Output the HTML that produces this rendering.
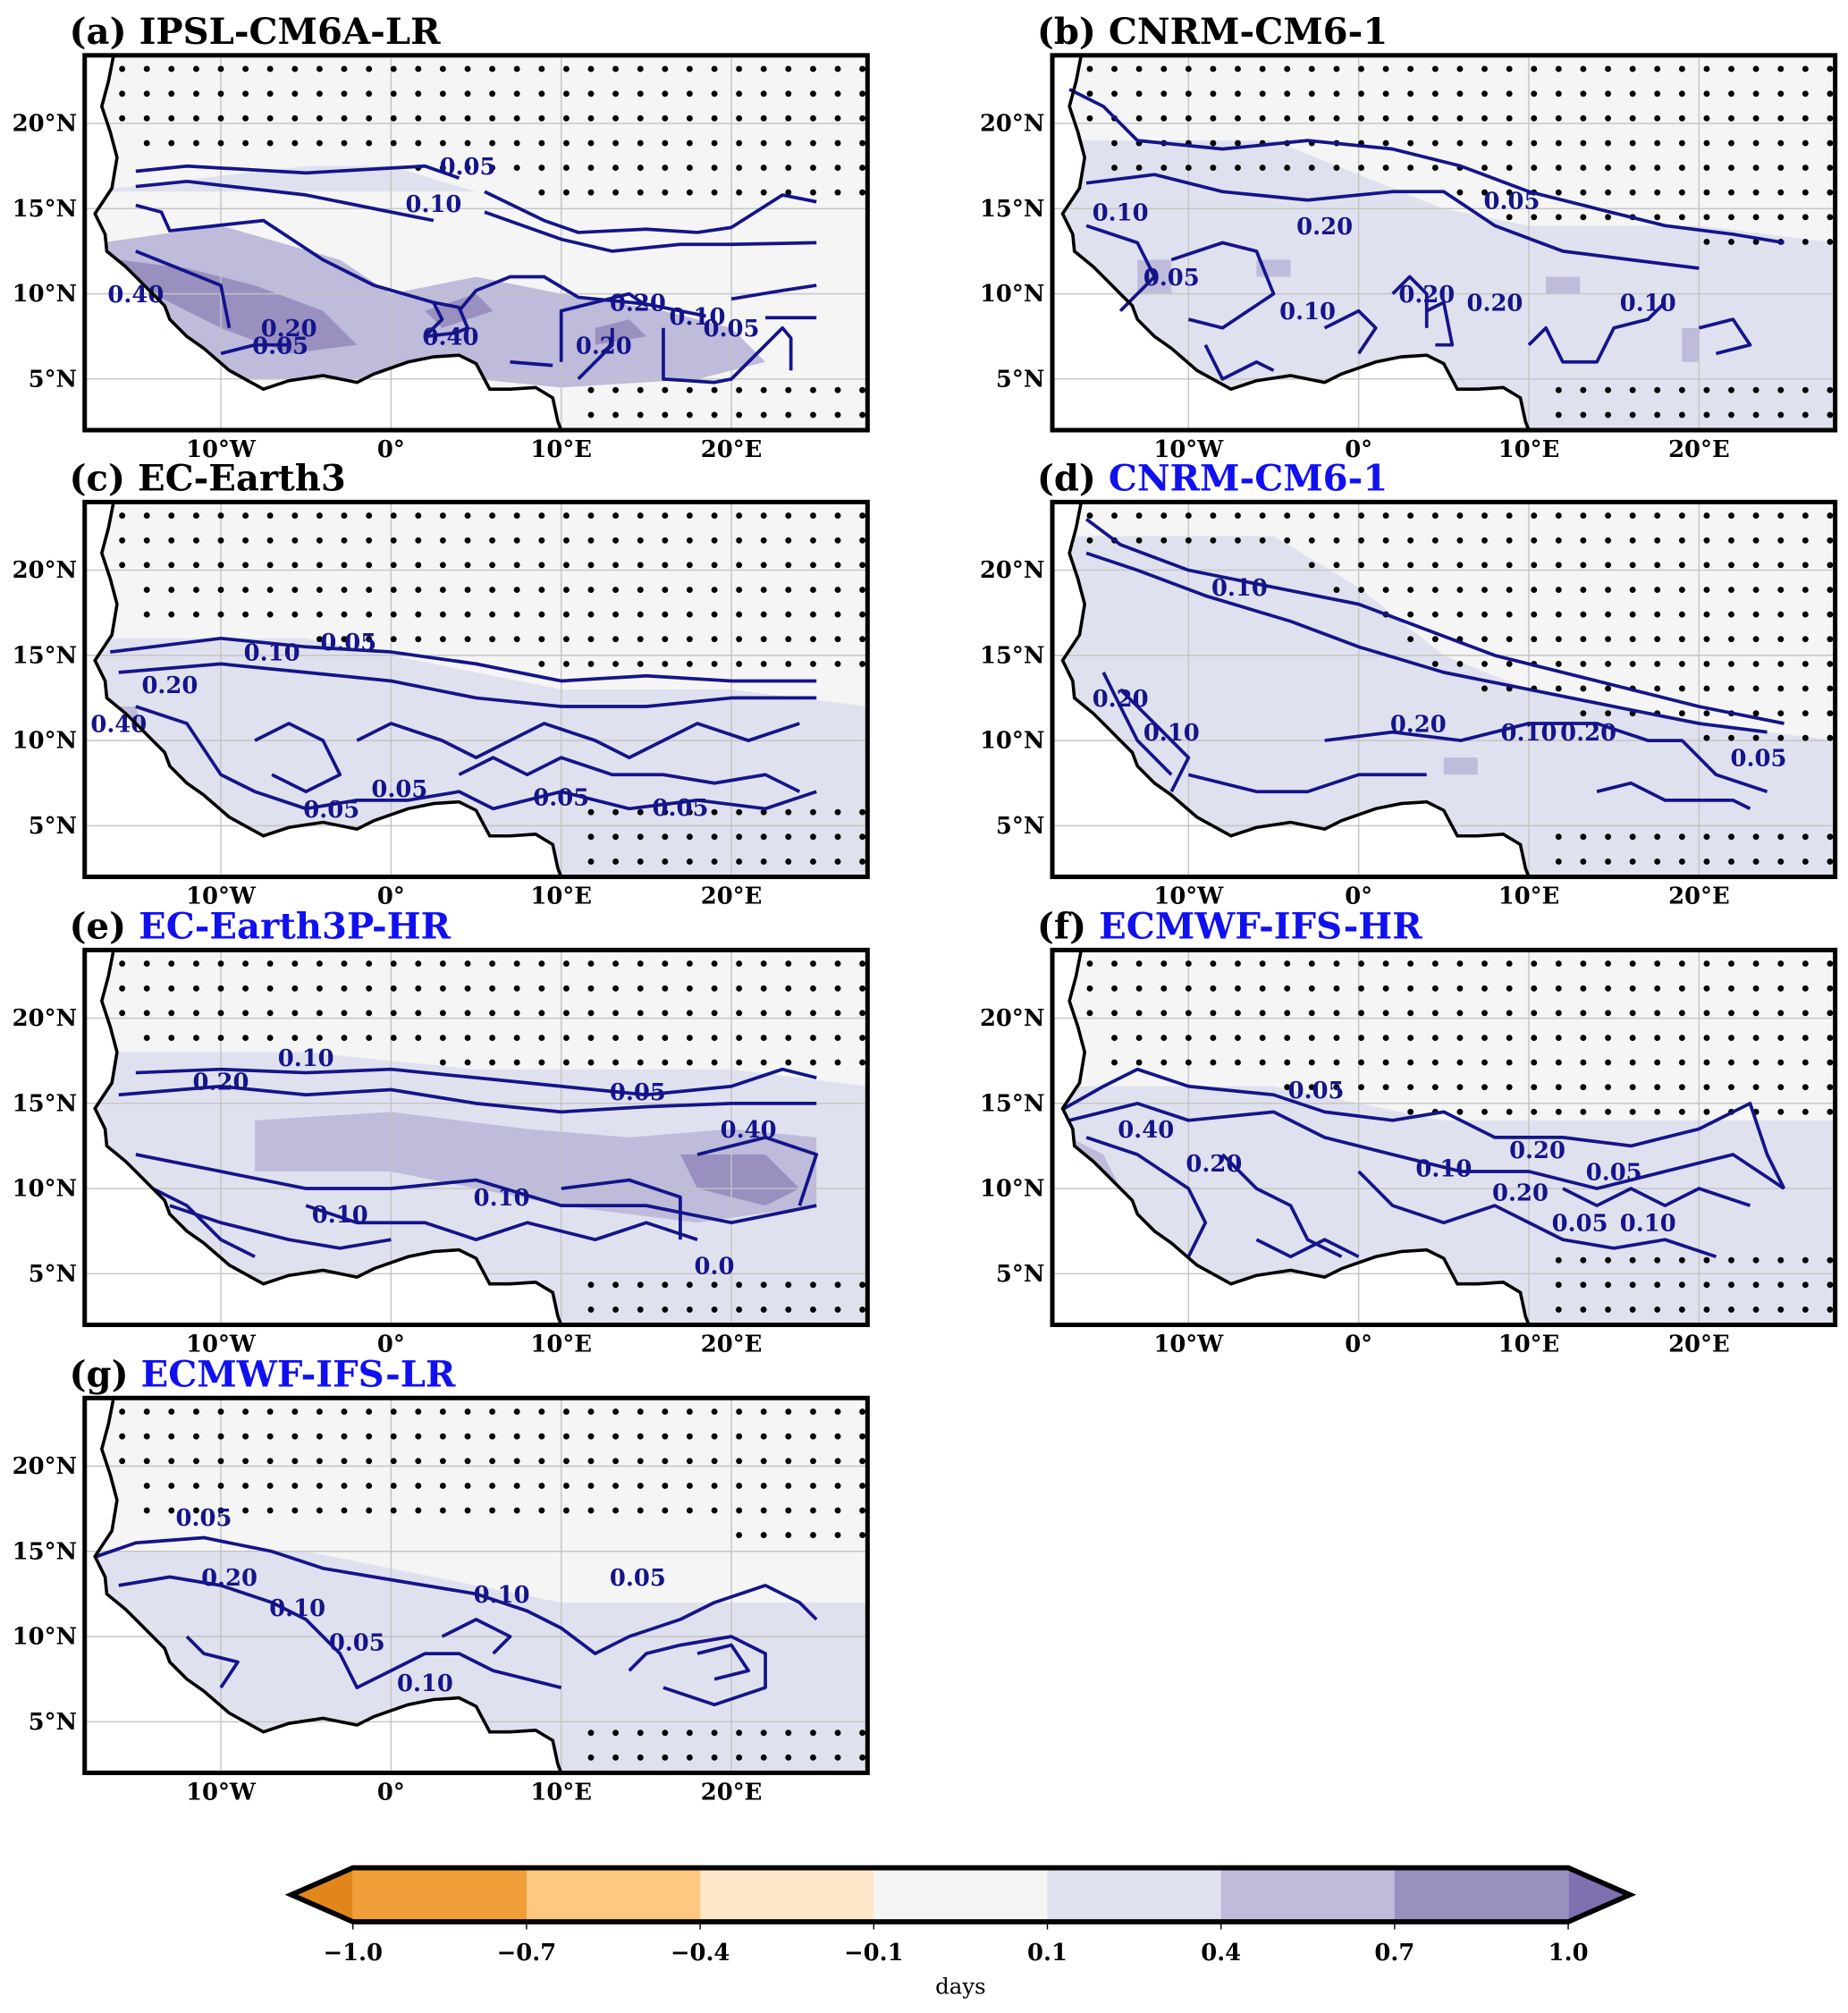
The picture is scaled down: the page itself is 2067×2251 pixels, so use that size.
<!DOCTYPE html>
<html><head><meta charset="utf-8">
<style>
html,body{margin:0;padding:0;background:#fff;}
svg{display:block;}
text{font-family:"DejaVu Serif","Liberation Serif",serif;font-weight:bold;}
</style></head>
<body>
<svg id="fig" width="2067" height="2251" viewBox="0 0 1440 1568" xmlns="http://www.w3.org/2000/svg">
<defs>
<clipPath id="landclip"><path id="landpath" d=""/></clipPath>
</defs>
<g id="panels"></g>
<g id="colorbar"></g>
</svg>
<script>
// ---------- data ----------
const panelIds=['a','b','c','d','e','f','g'];
const panelNames=['IPSL-CM6A-LR','CNRM-CM6-1','EC-Earth3','CNRM-CM6-1','EC-Earth3P-HR','ECMWF-IFS-HR','ECMWF-IFS-LR'];
const panelBlue=[false,false,false,true,true,true,true];
const lonTicks=[-10,0,10,20];
const lonTickLabels=['10°W','0°','10°E','20°E'];
const latTicks=[5,10,15,20];
const latTickLabels=['5°N','10°N','15°N','20°N'];
const cbLevels=[-1.0,-0.7,-0.4,-0.1,0.1,0.4,0.7,1.0];
const cbTickLabels=['−1.0','−0.7','−0.4','−0.1','0.1','0.4','0.7','1.0'];
const cbColors=['#f09e38','#fec880','#fee6c8','#f5f5f5','#e0e1ee','#bebbdb','#9990c0'];
// coast (lon,lat)
const coast=[[-16.3,24],[-16.6,22.5],[-17,21],[-16.5,19.5],[-16.1,18],[-16.4,16.2],[-17.4,14.7],[-16.8,13.5],[-16.7,12.5],[-15.6,11.6],[-15,11],[-14,10],[-13.3,9.3],[-13,8.5],[-12,7.5],[-11,6.8],[-9.5,5.5],[-7.5,4.4],[-6,4.9],[-4,5.2],[-2,4.8],[-1,5.3],[1,6],[2.5,6.3],[4,6.4],[5,5.9],[5.8,4.4],[7,4.4],[8.5,4.5],[9.5,3.9],[9.8,2.5],[10,2]];
// dot region southern edge (lat) at these lons
const dotLons=[-18,-5,0,5,10,20,28];
const dotEdge={a:[17.5,17.5,17.5,17,15,15,15],b:[17,17,17,16,14,13,12],c:[16,16,15,15,14,14,14],d:[21,21,18,14,12,10,9],e:[18,18,18,17,16,16,16],f:[16,16,15,14,14,14,14],g:[16,16,16,16,16,16,15]};
const dotStep={a:1.45,b:1.45,c:1.45,d:1.45,e:1.45,f:1.45,g:1.45};
const dotSE={a:5.5,b:5,c:6,d:5,e:5,f:6,g:5};
// shading: light region north edge (lat) at dotLons
const lightEdge={a:[16,17.5,17.5,16,16,16],b:[19,19,17,15,14,14,13],c:[16,16,15,14,13,13,12],d:[22,22,19,15,13,11,10],e:[18,18,17.5,17,17,17,16],f:[16,16,15,14,14,14,14],g:[15,15,14,13,12,12,12]};
const medPolys={
a:[[[-17,13],[-10,14],[-3,12],[0,10],[5,11],[10,10],[16,9],[20,8],[22,6],[18,5],[10,4.5],[5,5],[-10,5],[-17,10]]],
b:[[[-13,12],[-11,12],[-11,10],[-13,10]],[[-6,12],[-4,12],[-4,11],[-6,11]],[[11,11],[13,11],[13,10],[11,10]],[[19,8],[20,8],[20,6],[19,6]]],
c:[[[-17,12],[-15,12],[-14,9],[-16,9]]],
d:[[[5,9],[7,9],[7,8],[5,8]]],
e:[[[-8,14],[0,14.5],[8,13.5],[14,13],[20,13.5],[25,13],[25,9],[18,8],[10,9],[0,11],[-8,11]]],
f:[[[-17,13],[-15,12],[-14,10],[-16,10]]],
g:[]};
const darkPolys={
a:[[[-16,12],[-12,11.5],[-8,10.5],[-4,9],[-2,7],[-6,6.5],[-10,8],[-14,10]],[[2,9],[5,10],[6,9],[3,8]],[[12,8],[14,8.5],[15,7.5],[12,7]]],
b:[],c:[],d:[],e:[[[17,12],[22,12],[24,10],[22,9],[18,10]]],f:[],g:[]};
// contours (lon,lat)
const contours={
a:[[[-15,17.2],[-12,17.5],[-5,17.1],[2,17.5],[4,16.8]],[[5.5,16],[9,14.3],[11,13.6],[15,13.8],[18,13.6],[20,13.9],[23,15.8],[25,15.4]],[[-15,16.3],[-12,16.6],[-5,15.8],[0,14.8],[2.5,14.3]],[[5.5,14.8],[10,13.2],[13,12.5],[17,12.9],[20,12.9],[25,13]],[[-15,15.2],[-13.5,14.8],[-13,13.7],[-7.5,14.3],[-4,12],[-1,10.5],[2.5,9.5],[4,9.2],[4.5,8],[3.8,7.7],[2,7.5],[3,8.5],[2.5,9.5]],[[4,9],[5,10.2],[7,11],[9,11],[11,9.8],[15,9.4],[17,9],[18.5,8.7]],[[-15,12.5],[-10,10.5],[-9.5,8]],[[-10,6.5],[-8,7],[-6,7]],[[7,6],[9.5,5.8]],[[10,6],[10,9],[14,10],[15,9.3]],[[11,5],[13,7],[13,8]],[[20,9.7],[23,10.2],[25,10.5]],[[22,8.6],[25,8.6]],[[16,8],[16,5],[19,4.8],[20,5],[23,8],[23.5,7.4],[23.5,5.5]]],
b:[[[-17,22],[-15,21],[-13,19],[-8,18.5],[-3,19],[2,18.5],[6,17.5],[10,16],[14,15],[18,14],[22,13.5],[25,13]],[[-16,16.5],[-12,17],[-8,16],[-3,15.5],[2,16],[5,16],[8,14],[12,12.5],[16,12],[20,11.5]],[[-16,14],[-13,13],[-12,11],[-14,9]],[[-11,12],[-8,13],[-6,12.5],[-5,10],[-8,8],[-10,8.5]],[[2,10],[3,11],[4,10],[4,8]],[[4,9],[5,9.5],[5.5,7],[4.5,7]],[[-9,7],[-8,5],[-6,6],[-5,5.5]],[[10,7],[11,8],[12,6],[14,6],[15,8],[17,8.5],[18,9.5]],[[20,8],[22,8.5],[23,7],[21,6.5]],[[-2,8],[0,9],[1,8],[0,6.5]]],
c:[[[-16.5,15.2],[-10,16],[-5,15.5],[0,15.2],[5,14.5],[10,13.5],[15,13.8],[20,13.5],[25,13.5]],[[-16,14],[-10,14.5],[-5,14],[0,13.5],[5,12.5],[10,12],[15,12],[20,12.5],[25,12.5]],[[-15,12],[-12,11],[-10,8],[-8,7],[-5,6],[-2,6.5],[1,6.5],[4,7],[6,6],[10,7],[14,6],[18,6.5],[22,6],[25,7]],[[-8,10],[-6,11],[-4,10],[-3,8],[-5,7],[-7,8]],[[-2,10],[0,11],[3,10],[5,9],[7,10],[9,11],[12,10],[14,9],[16,10],[18,11],[21,10],[24,11]],[[4,8],[6,9],[8,8],[10,9],[13,8],[16,8],[19,7.5],[22,8],[24,7]]],
d:[[[-16,23],[-14,21.5],[-10,20],[-5,19],[0,18],[4,16.5],[8,15],[14,13.5],[20,12],[25,11]],[[-16,21],[-13,20],[-9,18.5],[-4,17],[0,15.5],[5,14],[10,13],[15,12],[20,11],[24,10.5]],[[-15,14],[-14,12],[-13,10],[-11,8]],[[-14,13],[-12,11],[-10,9],[-11,7]],[[-2,10],[2,10.5],[6,10],[10,11],[14,11],[17,10],[19,10],[21,8],[24,7]],[[-10,8],[-6,7],[-3,7],[0,8],[4,8]],[[14,7],[16,7.5],[18,6.5],[22,6.5],[23,6]]],
e:[[[-15,16.8],[-10,17],[-5,16.8],[0,17],[5,16.5],[10,16],[15,15.5],[20,16],[23,17],[25,16.5]],[[-16,15.5],[-10,16],[-5,15.5],[0,15.8],[5,15],[10,14.5],[15,14.8],[20,15],[25,15]],[[-15,12],[-10,11],[-5,10],[0,10],[5,10.5],[10,9],[15,9],[20,8],[25,9]],[[-14,10],[-12,9],[-10,7],[-8,6]],[[-5,9],[-2,8],[2,8],[5,7],[8,8],[12,7],[15,8],[18,7]],[[-13,9],[-10,8],[-6,7],[-3,6.5],[0,7]],[[18,12],[22,13],[25,12],[24,9]],[[10,10],[14,10.5],[17,9.5],[17,7]]],
f:[[[-17.3,14.7],[-15,16],[-13,17],[-10,16],[-5,15.5],[-2,14.5],[2,14],[5,14.5],[8,13],[12,13],[16,12.5],[20,13.5],[23,15],[24,12],[25,10]],[[-17,14],[-13,15],[-10,14],[-5,14.5],[-2,13],[2,12],[6,11],[10,11],[14,10],[18,11],[22,12],[25,10]],[[-16,13],[-13,12],[-10,10],[-9,8],[-10,6]],[[-8,12],[-6,10],[-4,9],[-3,7],[-1,6]],[[0,11],[2,9],[5,8],[8,9],[10,8],[12,7],[15,6.5],[18,7],[21,6]],[[12,10],[14,9],[16,10],[18,9],[20,10],[23,9]],[[-6,7],[-4,6],[-2,7],[0,6]]],
g:[[[-17.3,14.7],[-15,15.5],[-11,15.8],[-7,15],[-4,14],[-1,13.5],[2,13],[5,12.5],[8,11.5],[10,10.5],[12,9],[14,10],[17,11],[19,12],[22,13],[24,12],[25,11]],[[-16,13],[-13,13.5],[-10,13],[-7,12],[-5,11],[-3,9],[-2,7],[0,8],[2,9],[4,9],[6,8],[8,7.5],[10,7]],[[-12,10],[-11,9],[-9,8.5],[-10,7]],[[3,10],[5,11],[7,10],[6,9]],[[14,8],[15,9],[17,9.5],[20,10],[22,9],[22,7],[19,6],[16,7]],[[18,9],[20,9.5],[21,8],[19,7.5]]]
};
const cLabels={
a:[[4.5,17,'0.05'],[2.5,14.8,'0.10'],[-15,9.5,'0.40'],[-6,7.5,'0.20'],[-6.5,6.5,'0.05'],[3.5,7,'0.40'],[14.5,9,'0.20'],[12.5,6.5,'0.20'],[18,8.2,'0.10'],[20,7.5,'0.05']],
b:[[9,15,'0.05'],[-14,14.3,'0.10'],[-2,13.5,'0.20'],[-11,10.5,'0.05'],[4,9.5,'0.20'],[-3,8.5,'0.10'],[8,9,'0.20'],[17,9,'0.10']],
c:[[-7,14.7,'0.10'],[-2.5,15.3,'0.05'],[-16,10.5,'0.40'],[-13,12.8,'0.20'],[-3.5,5.5,'0.05'],[0.5,6.7,'0.05'],[10,6.2,'0.05'],[17,5.6,'0.05']],
d:[[-7,18.5,'0.10'],[-14,12,'0.20'],[-11,10,'0.10'],[3.5,10.5,'0.20'],[10,10,'0.10'],[13.5,10,'0.20'],[23.5,8.5,'0.05']],
e:[[-10,15.8,'0.20'],[-5,17.2,'0.10'],[14.5,15.2,'0.05'],[21,13,'0.40'],[6.5,9,'0.10'],[-3,8,'0.10'],[19,5,'0.0']],
f:[[-2.5,15.3,'0.05'],[-12.5,13,'0.40'],[-8.5,11,'0.20'],[5,10.7,'0.10'],[10.5,11.8,'0.20'],[9.5,9.3,'0.20'],[13,7.5,'0.05'],[15,10.5,'0.05'],[17,7.5,'0.10']],
g:[[-11,16.5,'0.05'],[-9.5,13,'0.20'],[-5.5,11.2,'0.10'],[-2,9.2,'0.05'],[6.5,12,'0.10'],[2,6.8,'0.10'],[14.5,13,'0.05']]
};
// ---------- layout ----------
const panelPos={a:[66,43],b:[820,43],c:[66,391],d:[820,391],e:[66,740],f:[820,740],g:[66,1089]};
const PW=610,PH=292,LON0=-18,LON1=28,LAT0=2,LAT1=24;
const X=lon=>(lon-LON0)/(LON1-LON0)*PW;
const Y=lat=>(LAT1-lat)/(LAT1-LAT0)*PH;
const NS='http://www.w3.org/2000/svg';
function mk(tag,attrs,parent){const e=document.createElementNS(NS,tag);for(const k in attrs)e.setAttribute(k,attrs[k]);if(parent)parent.appendChild(e);return e;}
const pts2d=p=>p.map(q=>X(q[0]).toFixed(1)+','+Y(q[1]).toFixed(1)).join(' ');
function interp(arr,lon){for(let i=0;i<dotLons.length-1;i++){if(lon<=dotLons[i+1]){const t=(lon-dotLons[i])/(dotLons[i+1]-dotLons[i]);return arr[i]+(arr[Math.min(i+1,arr.length-1)]-arr[i])*t;}}return arr[arr.length-1];}
const landPts=coast.concat([[LON1,LAT0],[LON1,LAT1]]);
document.getElementById('landpath').setAttribute('d','M'+landPts.map(q=>X(q[0]).toFixed(1)+','+Y(q[1]).toFixed(1)).join(' L')+' Z');
function coastLon(lat){for(let i=0;i<coast.length-1;i++){const a=coast[i],b=coast[i+1];if((lat<=a[1]&&lat>=b[1])){const t=(a[1]-lat)/(a[1]-b[1]||1);return a[0]+(b[0]-a[0])*t;}}return 10;}
const root=document.getElementById('panels');
panelIds.forEach((id,i)=>{
  const [px,py]=panelPos[id];
  const g=mk('g',{transform:`translate(${px},${py})`},root);
  
  
  const t=mk('text',{x:-12,y:-9,'font-size':28,fill:'#000'},g);
  
  
  t.textContent='('+id+') ';
  const ts=mk('tspan',{fill:panelBlue[i]?'#1010f0':'#000'},t);
  ts.textContent=panelNames[i];
  const m=mk('g',{'clip-path':'url(#landclip)'},g);
  mk('rect',{x:0,y:0,width:PW,height:PH,fill:'#f5f5f5'},m);
  const le=lightEdge[id];
  const lp=[];dotLons.forEach((l,k)=>lp.push([l,le[k]]));
  lp.push([LON1,LAT0],[LON0,LAT0]);
  const lpoly=mk('polygon',{points:pts2d(lp),fill:'#e0e1ee'},m);
  
  
  (medPolys[id]||[]).forEach(p=>{const e=mk('polygon',{points:pts2d(p),fill:'#bebbdb'},m);
    
    });
  (darkPolys[id]||[]).forEach(p=>{const e=mk('polygon',{points:pts2d(p),fill:'#9990c0'},m);
    
    });
  lonTicks.forEach(l=>mk('line',{x1:X(l),x2:X(l),y1:0,y2:PH,stroke:'#c4c4c4','stroke-width':1},g));
  latTicks.forEach(l=>mk('line',{x1:0,x2:PW,y1:Y(l),y2:Y(l),stroke:'#c4c4c4','stroke-width':1},g));
  const st=dotStep[id];
  const dg=mk('g',{fill:'#000'},g);
  
  
  for(let lat=23.2;lat>LAT0+0.3;lat-=st){
    for(let lon=-15.8;lon<LON1-0.3;lon+=st){
      if(lon<coastLon(lat)+0.6)continue;
      const north=lat>interp(dotEdge[id],lon);
      const se=lon>10.3&&lat<dotSE[id];
      if(north||se)mk('circle',{cx:X(lon).toFixed(1),cy:Y(lat).toFixed(1),r:2.4},dg);
    }
  }
  const cg=mk('g',{fill:'none',stroke:'#14148a','stroke-width':2.6,'stroke-linejoin':'round'},g);
  contours[id].forEach(p=>{const e=mk('polyline',{points:pts2d(p)},cg);
    
    });
  cLabels[id].forEach(c=>{const e=mk('text',{x:X(c[0]),y:Y(c[1]),'font-size':18,fill:'#14148a','text-anchor':'middle'},g);
    
    
    e.textContent=c[2];});
  const cl=mk('polyline',{points:pts2d(coast),fill:'none',stroke:'#000','stroke-width':2.5},g);
  
  
  const fr=mk('rect',{x:0,y:0,width:PW,height:PH,fill:'none',stroke:'#000','stroke-width':3.5},g);
  
  
  latTicks.forEach((l,k)=>{const e=mk('text',{x:-6,y:Y(l)+6,'font-size':18,'text-anchor':'end',fill:'#000'},g);
    
    
    e.textContent=latTickLabels[k];});
  lonTicks.forEach((l,k)=>{const e=mk('text',{x:X(l),y:PH+21,'font-size':18,'text-anchor':'middle',fill:'#000'},g);
    
    
    e.textContent=lonTickLabels[k];});
});
// ---------- colorbar (uniform spacing per level, as in reference) ----------
const cb=document.getElementById('colorbar');
const CB0=275,CB1=1222,CBT=1455,CBB=1497,TIP=48;
const CX=k=>CB0+k/(cbLevels.length-1)*(CB1-CB0);
const CM=(CBT+CBB)/2;
const lt=mk('polygon',{points:`${CB0},${CBT} ${CB0-TIP},${CM} ${CB0},${CBB}`,fill:'#e0861a'},cb);


const rt=mk('polygon',{points:`${CB1},${CBT} ${CB1+TIP},${CM} ${CB1},${CBB}`,fill:'#8070b0'},cb);


cbColors.forEach((c,k)=>{const e=mk('rect',{x:CX(k),y:CBT,width:CX(k+1)-CX(k)+0.5,height:CBB-CBT,fill:c},cb);
  
  });
mk('polygon',{points:`${CB0},${CBT} ${CB1},${CBT} ${CB1+TIP},${CM} ${CB1},${CBB} ${CB0},${CBB} ${CB0-TIP},${CM}`,fill:'none',stroke:'#000','stroke-width':4},cb);
cbLevels.forEach((v,k)=>{mk('line',{x1:CX(k),x2:CX(k),y1:CBB,y2:CBB+6,stroke:'#000','stroke-width':1},cb);
  const e=mk('text',{x:CX(k),y:CBB+30,'font-size':18,'text-anchor':'middle',fill:'#000'},cb);
  
  
  e.textContent=cbTickLabels[k];});
const dl=mk('text',{x:(CB0+CB1)/2,y:CBB+56,'font-size':17,'text-anchor':'middle',fill:'#000',style:'font-weight:normal'},cb);


dl.textContent='days';
</script>
</body></html>
